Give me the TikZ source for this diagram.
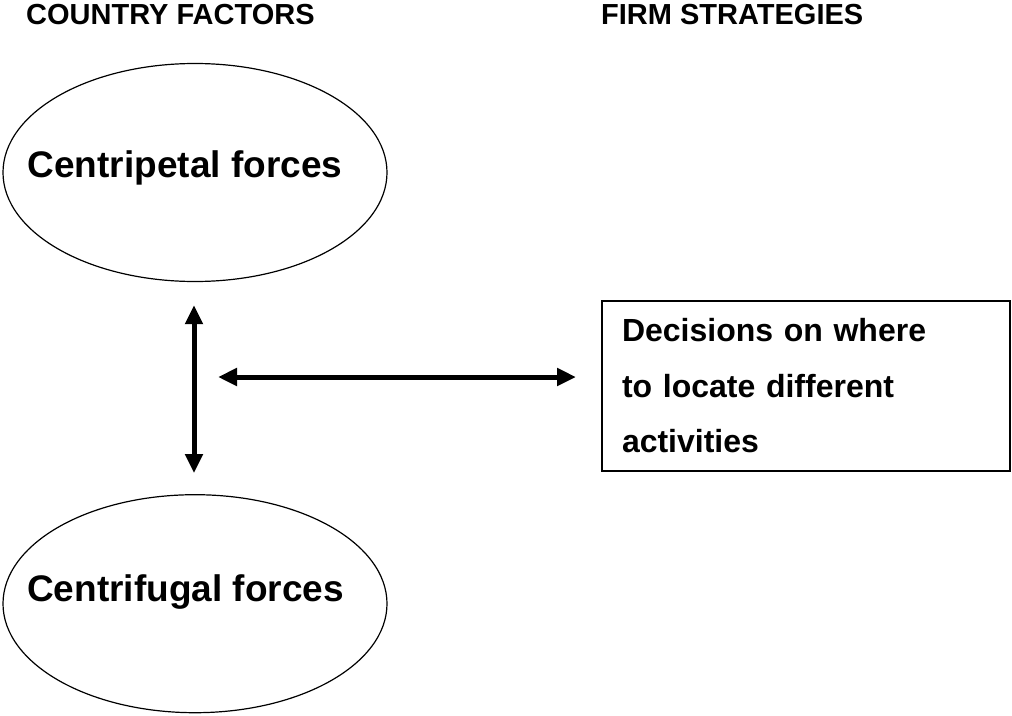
\documentclass[tikz,border=0pt]{standalone}
\usepackage{fontspec}
\setmainfont{Liberation Sans}
\usepackage{tikz}
\usetikzlibrary{positioning,shapes,arrows.meta,calc}
\tikzstyle{heading}  = [anchor=base west, inner sep=0pt,
                        font=\fontsize{29}{35}\selectfont\bfseries]
\tikzstyle{force}    = [ellipse, draw, line width=1.2pt, minimum width=384pt,
                        minimum height=218pt, inner sep=0pt]
\tikzstyle{forcetxt} = [anchor=base, inner sep=0pt,
                        font=\fontsize{37}{44}\selectfont\bfseries]
\tikzstyle{decision} = [rectangle, draw, line width=2pt, minimum width=408pt,
                        minimum height=170pt, text width=368pt, inner xsep=20pt,
                        inner ysep=0pt, align=left,
                        font=\fontsize{32}{55.5}\selectfont\bfseries]
\tikzstyle{dblarrow} = [line width=5pt,
                        {Triangle[length=19pt,width=17pt]}-{Triangle[length=19pt,width=17pt]}]

\begin{document}
\begin{tikzpicture}[x=1pt, y=-1pt]
		\useasboundingbox (0,0) rectangle (1012,715);
		\node[heading] (country) at (26,24) {COUNTRY FACTORS};
		\node[heading] (firm) at (601,24) {FIRM STRATEGIES};

		\node[force] (centripetal) at (195,172.5) {};
		\node[force, below=212pt of centripetal] (centrifugal) {};
		\node[forcetxt] (cptxt) at ($(centripetal.center)+(-10,4.5)$) {Centripetal forces};
		\node[forcetxt] (cftxt) at ($(centrifugal.center)+(-9.5,-2.5)$) {Centrifugal forces};

		\node[decision] (decide) at (806,386) {Decisions on where\\to locate different\\activities};

		\coordinate (hleft) at (218,377);
		\draw[dblarrow, shorten <=23pt, shorten >=21pt] ([xshift=-1pt]centripetal.south) -- ([xshift=-1pt]centrifugal.north);
		\draw[dblarrow, shorten >=25pt] (hleft) -- (hleft -| decide.west);
	\end{tikzpicture}
\end{document}
